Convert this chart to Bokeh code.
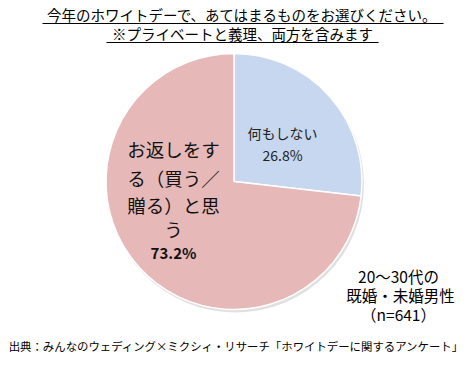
import numpy as np
from bokeh.plotting import figure
from bokeh.models import Range1d, ColumnDataSource
from bokeh.core.properties import value
from bokeh.embed import file_html
from bokeh.resources import INLINE

# ---- data ----
categories = ["何もしない", "お返しをする（買う／贈る）と思う"]
shares = [26.8, 73.2]
colors = ["#C6D7EF", "#E6B9B8"]
title_lines = ["今年のホワイトデーで、あてはまるものをお選びください。", "※プライベートと義理、両方を含みます"]
blue_label = ["何もしない", "26.8%"]
pink_label = ["お返しをす", "る（買う／", "贈る）と思", "う"]
pink_pct = "73.2%"
note_lines = ["20～30代の", "既婚・未婚男性", "（n=641）"]
source_text = "出典：みんなのウェディング×ミクシィ・リサーチ「ホワイトデーに関するアンケート」"

W, H = 467, 365
FONT = value("Noto Sans CJK JP")

def Y(y):
    return H - y

p = figure(width=W, height=H, output_backend="svg", toolbar_location=None,
           x_range=Range1d(0, W), y_range=Range1d(0, H),
           x_axis_location=None, y_axis_location=None, min_border=0)
p.grid.visible = False
p.outline_line_color = None
p.background_fill_color = "white"

# pie geometry
cx, cy, r = 233.5, 181, 128
frac = np.array(shares) / sum(shares)
ends = np.cumsum(frac)
starts = ends - frac
start_ang = np.pi / 2 - starts * 2 * np.pi
end_ang = np.pi / 2 - ends * 2 * np.pi

# shadow
p.circle(x=[cx + 1.5], y=[Y(cy + 2.5)], radius=r + 0.5, fill_color="#BBBBBB",
         fill_alpha=0.45, line_color=None)

src = ColumnDataSource(dict(cat=categories, start=start_ang, end=end_ang, color=colors))
p.wedge(x=cx, y=Y(cy), radius=r, start_angle="start", end_angle="end", direction="clock",
        fill_color="color", line_color="white", line_width=1.5, source=src)

# title
ty = [14, 33]
p.text(x=[242, 242], y=[Y(v) for v in ty], text=title_lines, text_font=FONT,
       text_font_size="14.5px", text_align="center", text_baseline="middle", text_color="#000000")
p.segment(x0=[42, 106], y0=[Y(23), Y(42)], x1=[443, 378], y1=[Y(23), Y(42)],
          line_color="black", line_width=1.2)

# blue label
p.text(x=[282, 282], y=[Y(132), Y(154)], text=blue_label, text_font=FONT,
       text_font_size="14px", text_align="center", text_baseline="middle", text_color="#222222")

# pink label
py = [148, 177, 204, 228]
p.text(x=[173] * 4, y=[Y(v) for v in py], text=pink_label, text_font=FONT,
       text_font_size="18.5px", text_align="center", text_baseline="middle", text_color="#111111")
p.text(x=[173], y=[Y(252)], text=[pink_pct], text_font=FONT, text_font_size="15px",
       text_font_style="bold", text_align="center", text_baseline="middle", text_color="#111111")

# note
ny = [275, 294, 313]
p.text(x=[398, 400, 398], y=[Y(v) for v in ny], text=note_lines, text_font=FONT,
       text_font_size="15.5px", text_align="center", text_baseline="middle", text_color="#000000")

# source
p.text(x=[236], y=[Y(345)], text=[source_text], text_font=FONT, text_font_size="11.4px",
       text_align="center", text_baseline="middle", text_color="#000000")

open("out.html", "w").write(file_html(p, INLINE))
